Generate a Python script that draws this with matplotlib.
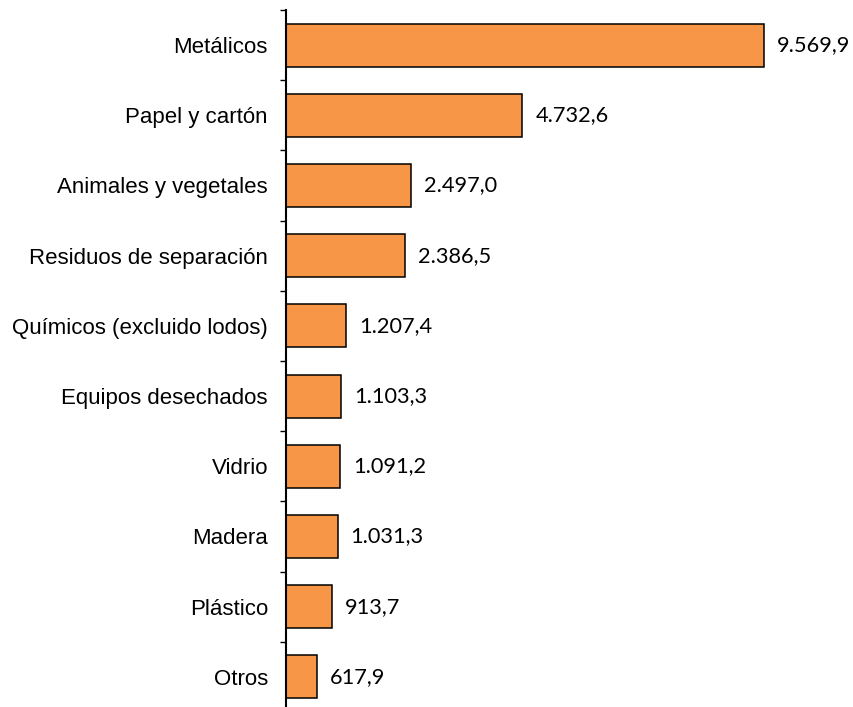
import matplotlib.pyplot as plt
import numpy as np

# Data (toneladas)
categories = ['Metálicos', 'Papel y cartón', 'Animales y vegetales',
              'Residuos de separación', 'Químicos (excluido lodos)',
              'Equipos desechados', 'Vidrio', 'Madera', 'Plástico', 'Otros']
values = [9569.9, 4732.6, 2497.0, 2386.5, 1207.4, 1103.3, 1091.2, 1031.3, 913.7, 617.9]


def fmt_es(v):
    # 9569.9 -> 9.569,9
    s = f"{v:,.1f}"
    return s.replace(',', 'X').replace('.', ',').replace('X', '.')


fig = plt.figure(figsize=(8.54, 7.07), dpi=100)
ax = fig.add_axes([286 / 854, 1 - 712 / 707, 0.98 - 286 / 854, 702 / 707])

y = np.arange(len(categories))
ax.barh(y, values, height=0.61, color='#F79646', edgecolor='black', linewidth=1.1)

for yi, v in zip(y, values):
    ax.annotate(fmt_es(v), xy=(v, yi), xytext=(9.4, 0), textcoords='offset points',
                ha='left', va='center', fontsize=15.7, family='Lato')

ax.set_xlim(0, 11031)
ax.set_ylim(len(categories) - 0.5, -0.5)

# Category labels on major ticks, boundary ticks as minor
ax.set_yticks(y)
ax.set_yticklabels(categories, family='Liberation Sans', fontsize=16)
ax.set_yticks(np.arange(-0.5, len(categories)), minor=True)
ax.tick_params(axis='y', which='major', length=0, pad=13)
ax.tick_params(axis='y', which='minor', length=4.3, width=1.0)

ax.set_xticks([])
for side in ['top', 'right', 'bottom']:
    ax.spines[side].set_visible(False)
ax.spines['left'].set_linewidth(1.5)

plt.savefig('out.png', dpi=100)
